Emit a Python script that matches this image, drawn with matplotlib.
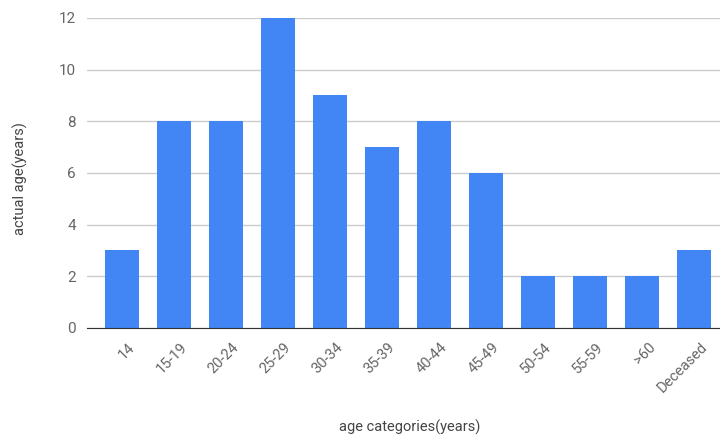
import matplotlib.pyplot as plt
from matplotlib.transforms import ScaledTranslation

categories = ["14", "15-19", "20-24", "25-29", "30-34", "35-39", "40-44",
              "45-49", "50-54", "55-59", ">60", "Deceased"]
values = [3, 8, 8, 12, 9, 7, 8, 6, 2, 2, 2, 3]

plt.rcParams['font.family'] = ['Roboto', 'DejaVu Sans']

fig = plt.figure(figsize=(7.2, 4.36), dpi=100)
ax = fig.add_axes([0.121, 0.248, 0.879, 0.711])

ax.bar(range(len(categories)), values, width=0.65, color='#4285F4', zorder=3)
ax.set_xlim(-0.67, len(categories) - 0.5)
ax.set_ylim(0, 12)
ax.set_yticks([0, 2, 4, 6, 8, 10, 12])
ax.yaxis.grid(True, color='#cccccc', linewidth=1)
ax.set_axisbelow(True)

for s in ['top', 'right', 'left']:
    ax.spines[s].set_visible(False)
ax.spines['bottom'].set_color('#333333')
ax.spines['bottom'].set_zorder(4)

ax.tick_params(axis='y', length=0, pad=8, labelsize=11, labelcolor='#666666')
ax.tick_params(axis='x', length=0, pad=9, labelsize=10.5, labelcolor='#666666')
ax.set_xticks(range(len(categories)))
ax.set_xticklabels(categories, rotation=45, ha='right', rotation_mode='anchor')
shift = ScaledTranslation(6 / 100, 0, fig.dpi_scale_trans)
for lbl in ax.get_xticklabels():
    lbl.set_transform(lbl.get_transform() + shift)

fig.text(0.569, 0.003, "age categories(years)", ha='center', va='bottom',
         fontsize=10.5, color='#444444')
fig.text(0.028, 0.59, "actual age(years)", ha='center', va='center',
         rotation=90, fontsize=10.5, color='#444444')

fig.savefig("out.png", dpi=100)
